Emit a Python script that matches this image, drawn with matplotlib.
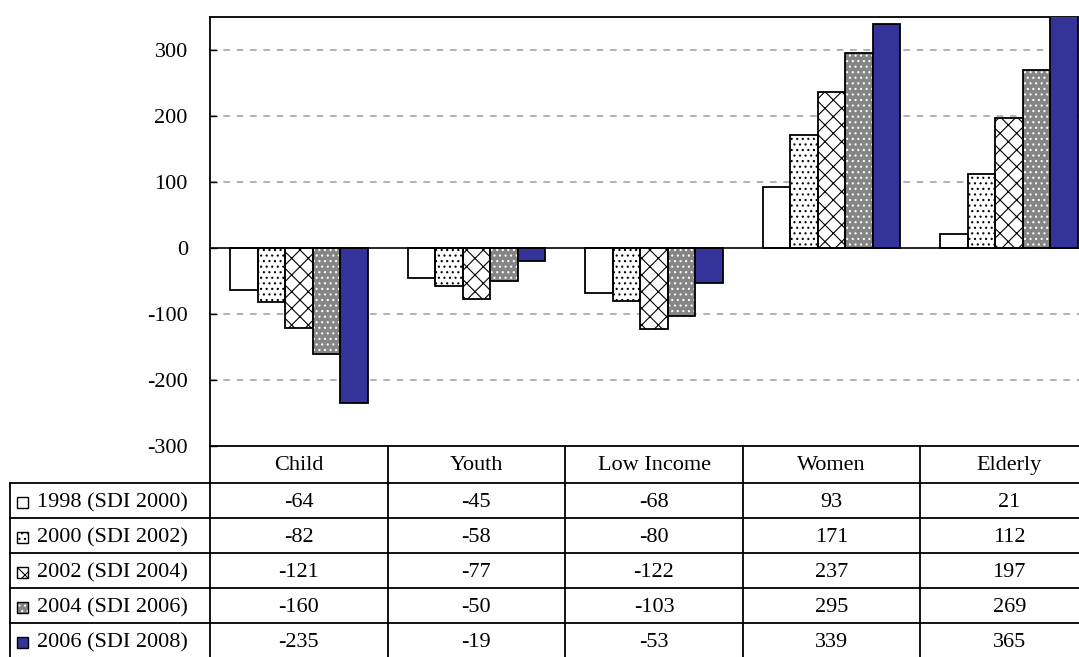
import numpy as np
import matplotlib
matplotlib.use("Agg")
import matplotlib.pyplot as plt
from matplotlib.patches import Rectangle
from matplotlib.lines import Line2D

categories = ["Child", "Youth", "Low Income", "Women", "Elderly"]
series_names = ["1998 (SDI 2000)", "2000 (SDI 2002)", "2002 (SDI 2004)",
                "2004 (SDI 2006)", "2006 (SDI 2008)"]
v1998 = [-64, -45, -68, 93, 21]
v2000 = [-82, -58, -80, 171, 112]
v2002 = [-121, -77, -122, 237, 197]
v2004 = [-160, -50, -103, 295, 269]
v2006 = [-235, -19, -53, 339, 365]
series_values = [v1998, v2000, v2002, v2004, v2006]
yticks = [-300, -200, -100, 0, 100, 200, 300]

W, H = 1079, 657
FS = 16
plt.rcParams['font.family'] = ['Liberation Serif', 'DejaVu Serif']
plt.rcParams['hatch.linewidth'] = 0.8
fig = plt.figure(figsize=(W / 100, H / 100), dpi=100)

def fx(px):
    return px / W

def fy(py):
    return 1 - py / H

ax_left, ax_top, ax_bottom = 210, 17, 446
col_w = 177.6
ax_right = ax_left + 5 * col_w
ax = fig.add_axes([fx(ax_left), fy(ax_bottom), fx(ax_right) - fx(ax_left),
                   fy(ax_top) - fy(ax_bottom)])

styles = [
    dict(face="white", hatch=None, hcol="black"),
    dict(face="white", hatch="...", hcol="black"),
    dict(face="white", hatch="xx", hcol="black"),
    dict(face="#858585", hatch="...", hcol="white"),
    dict(face="#333399", hatch=None, hcol="black"),
]

x = np.arange(len(categories))
bw = 0.155
for i, vals in enumerate(series_values):
    st = styles[i]
    pos = x + (i - 2) * bw
    ax.bar(pos, vals, width=bw, color=st["face"], hatch=st["hatch"],
           edgecolor=st["hcol"], linewidth=0, zorder=3)
    ax.bar(pos, vals, width=bw, fill=False, edgecolor="black", linewidth=1.3,
           zorder=4)

ax.set_xlim(-0.5, 4.5)
ax.set_ylim(-300, 350)
ax.set_yticks(yticks)
ax.set_yticklabels([str(t) for t in yticks], fontsize=FS)
ax.tick_params(axis="y", direction="in", length=5, width=1, pad=16)
ax.set_xticks([])
for g in [-200, -100, 100, 200, 300]:
    ax.axhline(g, color="#a6a6a6", linestyle=(0, (4, 4)), linewidth=1.2, zorder=1)
ax.axhline(0, color="black", linewidth=1.2, zorder=5)
for s in ax.spines.values():
    s.set_linewidth(1.3)
    s.set_color("black")

# data table
row_top = [483, 518, 553, 588, 623]
row_h = 35
lw = 1.3
def hline(x0, x1, y):
    fig.add_artist(Line2D([fx(x0), fx(x1)], [fy(y), fy(y)], color="black", lw=lw))

def vline(xx, y0, y1):
    fig.add_artist(Line2D([fx(xx), fx(xx)], [fy(y0), fy(y1)], color="black", lw=lw))

for j in range(6):
    vline(ax_left + j * col_w, ax_bottom, H + 5)
for j, c in enumerate(categories):
    fig.text(fx(ax_left + (j + 0.5) * col_w), fy((ax_bottom + 483) / 2 + 1), c,
             ha="center", va="center", fontsize=FS)
hline(10, ax_right, 483)
vline(10, 483, H + 5)
for r, y in enumerate(row_top):
    if r > 0:
        hline(10, ax_right, y)
    yc = y + row_h / 2 + 2
    st = styles[r]
    k = 11
    rect = Rectangle((fx(17), fy(yc + k / 2)), fx(k), fy(0) - fy(k),
                     transform=fig.transFigure, facecolor=st["face"],
                     hatch=st["hatch"], edgecolor=st["hcol"], linewidth=0)
    fig.add_artist(rect)
    fig.add_artist(Rectangle((fx(17), fy(yc + k / 2)), fx(k), fy(0) - fy(k),
                             transform=fig.transFigure, fill=False,
                             edgecolor="black", linewidth=1.0))
    fig.text(fx(37), fy(yc), series_names[r], ha="left", va="center", fontsize=FS)
    for j, v in enumerate(series_values[r]):
        fig.text(fx(ax_left + (j + 0.5) * col_w), fy(yc), str(v),
                 ha="center", va="center", fontsize=FS)

fig.savefig("out.png", dpi=100)
